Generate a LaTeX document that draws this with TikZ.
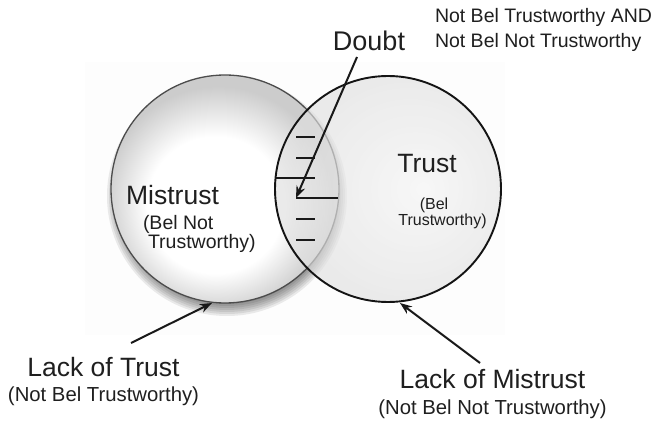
\documentclass[tikz,border=0pt]{standalone}
\usepackage{fontspec}
\setmainfont{Liberation Sans}
\usetikzlibrary{arrows.meta}

% shaded discs
\pgfdeclareradialshading{mistrustball}{\pgfpoint{-3bp}{-5bp}}{%
  color(0bp)=(white); color(15bp)=(white); color(25bp)=(black!20); color(50bp)=(black!20)}
\pgfdeclareradialshading{trustball}{\pgfpoint{8bp}{0bp}}{%
  color(0bp)=(black!4); color(25bp)=(black!12); color(50bp)=(black!12)}

\begin{document}
\begin{tikzpicture}[x=1pt,y=-1pt,
  lbl/.style={inner sep=0pt,outer sep=0pt,anchor=base,text=black!88},
  bigl/.style={lbl,font=\fontsize{26.5}{30}\selectfont},
  midl/.style={lbl,font=\fontsize{20.3}{24}\selectfont},
  smalll/.style={lbl,font=\fontsize{16}{19}\selectfont},
  notel/.style={lbl,anchor=base west,font=\fontsize{19.5}{23}\selectfont},
  arr/.style={-{Stealth[length=12pt,width=9pt]},line width=2pt,black!90},
  hatch/.style={line width=1.6pt,black!90}]

\useasboundingbox (0,0) rectangle (665,422);
\fill[white] (0,0) rectangle (665,422);
\fill[black!0.8] (85,62) rectangle (505,335);

% soft shadow under the Mistrust disc
\foreach \k in {0,...,10}
  \fill[black,opacity=0.08] (227,196) circle[radius=100+2*\k];

% Mistrust disc
\shade[shading=mistrustball] (225,189) circle[radius=114];
\draw[line width=1.3pt,black!70] (225,189) circle[radius=114];

% Trust disc
\shade[shading=trustball,opacity=0.65] (388,189) circle[radius=113];
\draw[line width=1.9pt,black!92] (388,189) circle[radius=113];

% hatching in the overlap
\draw[hatch] (296,137) -- (315,137);
\draw[hatch] (296,158) -- (315,158);
\draw[hatch] (275.4,178) -- (315,178);
\draw[hatch] (296,198) -- (337.6,198);
\draw[hatch] (296,219) -- (315,219);
\draw[hatch] (296,240) -- (315,240);

% labels
\node[bigl] (mistrust) at (172.5,204.5) {Mistrust};
\node[midl,anchor=base west,font=\fontsize{19.5}{23}\selectfont] (mistrustA) at (143,229.5) {(Bel Not};
\node[midl,anchor=base west,font=\fontsize{19.5}{23}\selectfont] (mistrustB) at (148,248.5) {Trustworthy)};

\node[bigl] (trust) at (427,173) {Trust};
\node[smalll] (trustA) at (434,210) {(Bel};
\node[smalll] (trustB) at (442.5,225.5) {Trustworthy)};

\node[bigl,font=\fontsize{27}{30}\selectfont] (doubt) at (369,51) {Doubt};
\node[notel] (noteA) at (435,23) {Not Bel Trustworthy AND};
\node[notel] (noteB) at (435,48) {Not Bel Not Trustworthy};

\node[bigl] (lot) at (103.5,377) {Lack of Trust};
\node[midl] (lotB) at (103.5,402) {(Not Bel Trustworthy)};
\node[bigl] (lom) at (492.5,389) {Lack of Mistrust};
\node[midl] (lomB) at (492.5,415) {(Not Bel Not Trustworthy)};

% pointers
\coordinate (doubtTail) at (357,57);
\coordinate (doubtTip) at (296,198);
\coordinate (lotTail) at (131,343);
\coordinate (lotTip) at (212,303);
\coordinate (lomTail) at (480,363);
\coordinate (lomTip) at (400,303);

\draw[arr] (doubtTail) -- (doubtTip);
\draw[arr] (lotTail) -- (lotTip);
\draw[arr] (lomTail) -- (lomTip);
\end{tikzpicture}
\end{document}
